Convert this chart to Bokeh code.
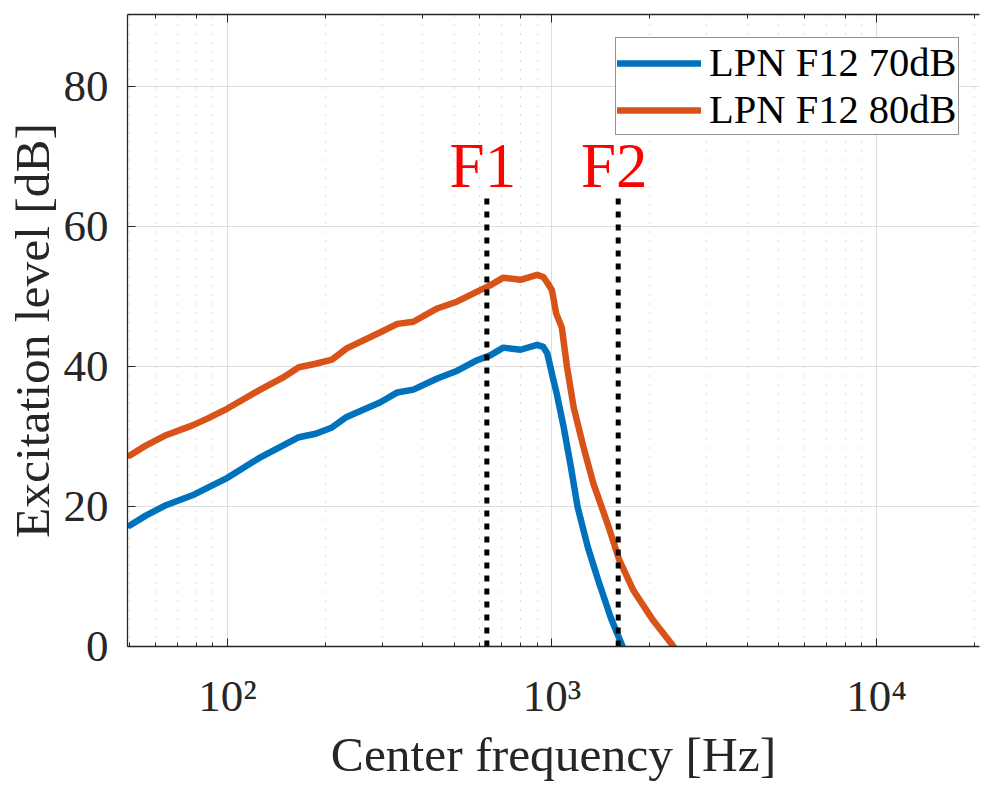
from bokeh.plotting import figure
from bokeh.models import (Range1d, LogAxis, FixedTicker, Legend, LegendItem,
                          Label)
from bokeh.embed import file_html
from bokeh.resources import INLINE

# Excitation patterns (center frequency in Hz, level in dB)
freq_70 = [50, 56, 64, 78, 87, 100, 125, 148, 166, 187, 210, 233, 296, 334,
           374, 443, 511, 588, 645, 708, 800, 900, 940, 967, 1011, 1036, 1087,
           1144, 1200, 1291, 1390, 1518, 1650]
level_70 = [17.3, 18.7, 20.1, 21.6, 22.7, 24.1, 26.9, 28.7, 29.9, 30.4, 31.3,
            32.8, 34.9, 36.3, 36.7, 38.3, 39.4, 40.9, 41.6, 42.7, 42.4, 43.1,
            42.8, 41.9, 38.0, 36.0, 31.3, 25.6, 19.9, 14.1, 9.4, 4.1, 0.0]

freq_80 = [50, 56, 64, 78, 87, 100, 125, 148, 166, 187, 210, 233, 296, 334,
           374, 443, 511, 588, 645, 708, 800, 900, 940, 967, 1000, 1030, 1072,
           1113, 1167, 1252, 1341, 1482, 1614, 1783, 2052, 2370]
level_80 = [27.3, 28.7, 30.1, 31.6, 32.6, 34.0, 36.6, 38.4, 39.9, 40.4, 41.0,
            42.6, 44.9, 46.1, 46.4, 48.3, 49.3, 50.7, 51.6, 52.7, 52.4, 53.1,
            52.8, 52.0, 50.9, 47.6, 45.6, 39.9, 34.1, 28.4, 23.3, 17.6, 12.3,
            8.0, 3.7, 0.0]

series_names = ["LPN F12 70dB", "LPN F12 80dB"]
series_colors = ["#0072BD", "#D95319"]

# Formant markers
formant_names = ["F1", "F2"]
formant_freqs = [630, 1600]
formant_top = 64

y_ticks = [0, 20, 40, 60, 80]
x_decades = [100, 1000, 10000]
x_decade_labels = ["10\u00b2", "10\u00b3", "10\u2074"]

FONT = "Liberation Serif"
AX_COLOR = "#262626"

p = figure(width=981, height=788, x_axis_type="log",
           x_range=Range1d(49.2, 20770), y_range=Range1d(0, 90.3),
           output_backend="svg", toolbar_location=None,
           min_border_left=127, min_border_right=2, min_border_top=14,
           min_border_bottom=142)
p.outline_line_color = None
p.background_fill_color = "white"
p.border_fill_color = "white"

# grids
p.xgrid.grid_line_color = "#dedede"
p.ygrid.grid_line_color = "#dedede"
p.xgrid.minor_grid_line_color = "#b8b8b8"
p.xgrid.minor_grid_line_dash = "1 8"
p.xgrid.minor_grid_line_width = 1
p.ygrid.ticker = FixedTicker(ticks=y_ticks)

# axes
xa = p.xaxis[0]
ya = p.yaxis[0]
for ax in (xa, ya):
    ax.axis_line_color = AX_COLOR
    ax.axis_line_width = 1.3
    ax.major_tick_line_color = AX_COLOR
    ax.minor_tick_line_color = AX_COLOR
    ax.major_tick_in = 8
    ax.major_tick_out = 0
    ax.minor_tick_in = 4
    ax.minor_tick_out = 0
    ax.major_label_text_font = FONT
    ax.major_label_text_font_size = "45px"
    ax.major_label_text_color = AX_COLOR
    ax.axis_label_text_font = FONT
    ax.axis_label_text_font_size = "49.5px"
    ax.axis_label_text_font_style = "normal"
    ax.axis_label_text_color = AX_COLOR

ya.ticker = FixedTicker(ticks=y_ticks)
ya.minor_tick_line_color = None
ya.major_label_standoff = 19
ya.axis_label = "Excitation level [dB]"
ya.axis_label_standoff = 1

xa.major_label_overrides = {float(v): s for v, s in zip(x_decades, x_decade_labels)}
xa.major_label_standoff = 24
xa.axis_label = "Center frequency [Hz]"
xa.axis_label_standoff = 3

# box ticks along the top edge
top = LogAxis(axis_line_color=AX_COLOR, axis_line_width=1.3,
              major_tick_line_color=AX_COLOR, minor_tick_line_color=AX_COLOR,
              major_tick_in=8, major_tick_out=0, minor_tick_in=4,
              minor_tick_out=0, major_label_text_font_size="1px",
              major_label_text_alpha=0, major_label_standoff=0)
p.add_layout(top, "above")

# curves
renderers = []
for fx, lv, c in zip([freq_70, freq_80], [level_70, level_80], series_colors):
    r = p.line(fx, lv, line_color=c, line_width=6.5, line_join="round",
               line_cap="round")
    renderers.append(r)

# formant lines and labels
for name, f in zip(formant_names, formant_freqs):
    p.line([f, f], [0, formant_top], line_color="black", line_width=5,
           line_dash="6 7", line_cap="butt")
    p.add_layout(Label(x=f, y=formant_top, text=name, text_align="center",
                       text_baseline="alphabetic", x_offset=-4, y_offset=33,
                       text_font=FONT, text_font_size="63px",
                       text_color="#FF0000"))

legend = Legend(items=[LegendItem(label=n, renderers=[r])
                       for n, r in zip(series_names, renderers)],
                location=(488, 511))
legend.label_text_font = FONT
legend.label_text_font_size = "40.5px"
legend.label_text_color = "black"
legend.border_line_color = AX_COLOR
legend.border_line_width = 1.3
legend.background_fill_alpha = 1
legend.glyph_width = 84
legend.label_standoff = 8
legend.padding = 1
legend.spacing = -2
legend.margin = 0
p.add_layout(legend, "center")

open("out.html", "w").write(file_html(p, INLINE))
